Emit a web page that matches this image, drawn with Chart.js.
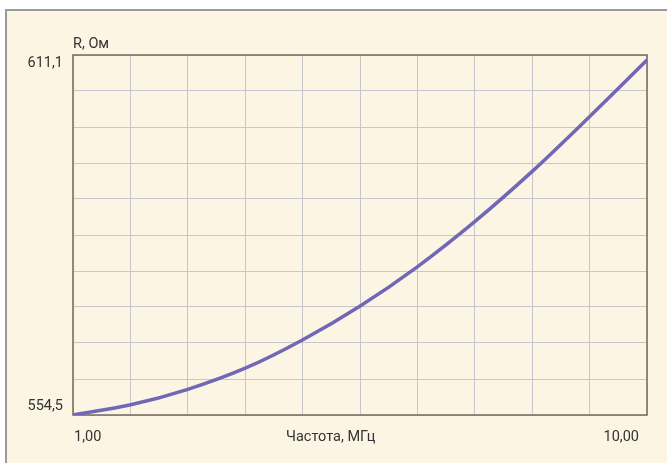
<!DOCTYPE html>
<html>
<head>
<meta charset="utf-8">
<script src="https://cdn.jsdelivr.net/npm/chart.js@4/dist/chart.umd.min.js"></script>
<style>
  html, body { margin: 0; padding: 0; background: #ffffff; }
  #wrap { position: relative; width: 667px; height: 463px; }
</style>
</head>
<body>
<div id="wrap"><canvas id="chart"></canvas></div>
<script>
// Активное сопротивление в зависимости от частоты (логарифмическая шкала частот)
const freqMHz       = [1.00, 1.26, 1.58, 2.00, 2.51, 3.16, 3.98, 5.01, 6.31, 7.94, 10.00];
const resistanceOhm = [554.5, 556.1, 558.5, 561.9, 566.3, 571.6, 577.8, 584.9, 592.8, 601.4, 610.3];

const xRange = [1, 10];
const yRange = [554.5, 611.1];
const xTickLabels = ['1,00', '10,00'];
const yTickLabels = ['554,5', '611,1'];
const xAxisTitle = 'Частота, МГц';
const yAxisTitle = 'R, Ом';
const divisions = 10;

const FONT = 'Roboto, "Liberation Sans", sans-serif';
const FONT_SIZE = 14.5;
const TEXT = '#333333';
const GRID = '#c6c6cc';
const FRAME = '#7b7267';
const PANEL = '#fdf5e4';

// сетка: 10 равных делений по каждой оси
const xGrid = Array.from({length: divisions + 1}, (_, i) => Math.pow(10, Math.log10(xRange[0]) + i * (Math.log10(xRange[1]) - Math.log10(xRange[0])) / divisions));
const yGrid = Array.from({length: divisions + 1}, (_, i) => yRange[0] + i * (yRange[1] - yRange[0]) / divisions);

const panelPlugin = {
  id: 'panel',
  beforeDraw(chart) {
    const ctx = chart.ctx;
    ctx.save();
    ctx.fillStyle = '#ffffff';
    ctx.fillRect(0, 0, chart.width, chart.height);
    ctx.fillStyle = '#9a9a9c';
    ctx.fillRect(5, 9, chart.width + 10, chart.height + 10);
    ctx.fillStyle = PANEL;
    ctx.fillRect(7, 11, chart.width + 10, chart.height + 10);
    ctx.restore();
  },
  beforeDatasetsDraw(chart) {
    const {ctx, chartArea: a} = chart;
    ctx.save();
    ctx.strokeStyle = FRAME;
    ctx.lineWidth = 1.6;
    ctx.strokeRect(a.left, a.top, a.right - a.left, a.bottom - a.top);
    ctx.restore();
  },
  afterDraw(chart) {
    const {ctx, chartArea: a} = chart;
    const xs = chart.scales.x;
    const labelY = a.bottom + 22;
    ctx.save();
    ctx.fillStyle = TEXT;
    ctx.font = FONT_SIZE + 'px ' + FONT;
    ctx.textBaseline = 'middle';
    // подписи крайних значений частоты
    ctx.textAlign = 'left';
    ctx.fillText(xTickLabels[0], xs.getPixelForValue(xRange[0]) + 1, labelY);
    ctx.textAlign = 'right';
    ctx.fillText(xTickLabels[1], xs.getPixelForValue(xRange[1]) - 8, labelY);
    // названия осей
    ctx.textAlign = 'left';
    ctx.fillText(yAxisTitle, a.left, a.top - 11);
    ctx.fillText(xAxisTitle, 286, labelY);
    ctx.restore();
  }
};

new Chart(document.getElementById('chart'), {
  type: 'line',
  data: {
    datasets: [{
      data: freqMHz.map((f, i) => ({x: f, y: resistanceOhm[i]})),
      borderColor: '#7068b6',
      borderWidth: 3.5,
      pointRadius: 0,
      cubicInterpolationMode: 'monotone',
      fill: false
    }]
  },
  options: {
    responsive: true,
    maintainAspectRatio: false,
    animation: false,
    devicePixelRatio: 1,
    layout: { padding: { left: 0, top: 55, right: 20, bottom: 0 } },
    plugins: { legend: { display: false }, tooltip: { enabled: false } },
    scales: {
      x: {
        type: 'logarithmic',
        min: xRange[0],
        max: xRange[1],
        afterBuildTicks(scale) { scale.ticks = xGrid.map(v => ({value: v})); },
        afterFit(scale) { scale.height = 48; },
        grid: { color: GRID, lineWidth: 1, drawTicks: false },
        border: { display: false },
        ticks: { display: false, autoSkip: false }
      },
      y: {
        type: 'linear',
        min: yRange[0],
        max: yRange[1],
        afterBuildTicks(scale) { scale.ticks = yGrid.map(v => ({value: v})); },
        afterFit(scale) { scale.width = 73; },
        grid: { color: GRID, lineWidth: 1, drawTicks: false },
        border: { display: false },
        ticks: {
          autoSkip: false,
          padding: 10,
          color: TEXT,
          font: { family: FONT, size: FONT_SIZE },
          callback: (v, i, t) => i === 0 ? [yTickLabels[0], ''] : (i === t.length - 1 ? ['', yTickLabels[1]] : '')
        }
      }
    }
  },
  plugins: [panelPlugin]
});
</script>
</body>
</html>
